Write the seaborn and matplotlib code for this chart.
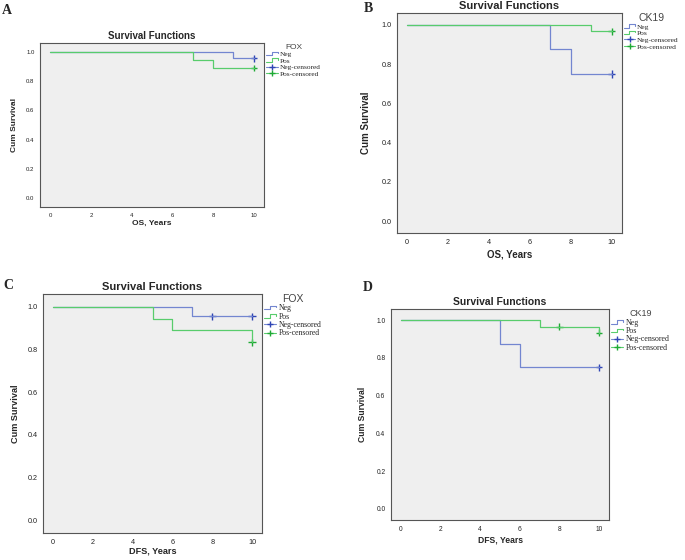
import numpy as np
import pandas as pd
import seaborn as sns
import matplotlib
matplotlib.use("Agg")
import matplotlib.pyplot as plt
from matplotlib.lines import Line2D
from matplotlib.legend_handler import HandlerBase

# ---- data ----
A_neg_t = [0, 9, 10]
A_neg_s = [1.0, 0.955, 0.955]
A_pos_t = [0, 7, 8, 10]
A_pos_s = [1.0, 0.944, 0.889, 0.889]
A_neg_cens_t = [10]
A_neg_cens_s = [0.955]
A_pos_cens_t = [10]
A_pos_cens_s = [0.889]

B_neg_t = [0, 7, 8, 10]
B_neg_s = [1.0, 0.875, 0.75, 0.75]
B_pos_t = [0, 9, 10]
B_pos_s = [1.0, 0.967, 0.967]
B_neg_cens_t = [10]
B_neg_cens_s = [0.75]
B_pos_cens_t = [10]
B_pos_cens_s = [0.967]

C_neg_t = [0, 7, 10]
C_neg_s = [1.0, 0.955, 0.955]
C_pos_t = [0, 5, 6, 10]
C_pos_s = [1.0, 0.944, 0.889, 0.833]
C_neg_cens_t = [8, 10]
C_neg_cens_s = [0.955, 0.955]
C_pos_cens_t = [10]
C_pos_cens_s = [0.833]

D_neg_t = [0, 5, 6, 10]
D_neg_s = [1.0, 0.875, 0.75, 0.75]
D_pos_t = [0, 7, 10]
D_pos_s = [1.0, 0.967, 0.935]
D_neg_cens_t = [10]
D_neg_cens_s = [0.75]
D_pos_cens_t = [8, 10]
D_pos_cens_s = [0.967, 0.935]

groups = ["Neg", "Pos"]
x_ticks = [0, 2, 4, 6, 8, 10]
y_ticks = [0.0, 0.2, 0.4, 0.6, 0.8, 1.0]

NEG_LINE = "#7386d0"
POS_LINE = "#58cc6c"
NEG_MARK = "#2f45b5"
POS_MARK = "#1faa35"

W, H = 685, 560

sns.set_style("white")
plt.rcParams["font.family"] = ["Liberation Sans", "DejaVu Sans"]


class StepHandler(HandlerBase):
    """legend key drawn as a little step, like SPSS does"""
    def create_artists(self, legend, orig, xd, yd, w, h, fontsize, trans):
        xs = [xd, xd + w * 0.45, xd + w * 0.45, xd + w, xd + w]
        ys = [yd + h * 0.2, yd + h * 0.2, yd + h * 0.8, yd + h * 0.8, yd + h * 0.55]
        ln = Line2D(xs, ys, color=orig.get_color(), lw=0.8, transform=trans)
        return [ln]


def px_axes(l, t, r, b):
    return fig.add_axes([l / W, 1 - b / H, (r - l) / W, (b - t) / H])


def km_panel(ax, neg_t, neg_s, pos_t, pos_s, nct, ncs, pct, pcs,
             xlabel, legend_title, fs):
    curves = pd.DataFrame({
        "time": neg_t + pos_t,
        "surv": neg_s + pos_s,
        "group": ["Neg"] * len(neg_t) + ["Pos"] * len(pos_t),
    })
    cens = pd.DataFrame({
        "time": nct + pct,
        "surv": ncs + pcs,
        "group": ["Neg"] * len(nct) + ["Pos"] * len(pct),
    })
    sns.lineplot(data=curves, x="time", y="surv", hue="group", hue_order=groups,
                 palette=[NEG_LINE, POS_LINE], estimator=None, sort=False,
                 drawstyle="steps-post", lw=0.9, legend=False, ax=ax)
    sns.scatterplot(data=cens, x="time", y="surv", hue="group", hue_order=groups,
                    palette=[NEG_MARK, POS_MARK], marker="+", s=fs["mark"],
                    linewidth=1.0, legend=False, ax=ax)
    ax.set_facecolor("#efefef")
    ax.set_xlim(-0.5, 10.5)
    ax.set_ylim(-0.06, 1.06)
    ax.set_xticks(x_ticks)
    ax.set_yticks(y_ticks)
    ax.set_yticklabels([f"{v:.1f}" for v in y_ticks])
    ax.tick_params(axis="both", length=2.5, width=0.6, color="#333333",
                   labelsize=fs["tick"], pad=1.5, labelcolor="#222222")
    for sp in ax.spines.values():
        sp.set_color("#555555")
        sp.set_linewidth(0.8)
    ax.set_title("Survival Functions", fontsize=fs["title"], fontweight="bold", pad=3)
    ax.set_xlabel(xlabel, fontsize=fs["label"], fontweight="bold")
    ax.set_ylabel("Cum Survival", fontsize=fs["label"], fontweight="bold")
    ax.xaxis.set_label_coords(0.5, -fs["xl"])
    ax.yaxis.set_label_coords(-fs["yl"], 0.5)

    h_neg = Line2D([], [], color=NEG_LINE)
    h_pos = Line2D([], [], color=POS_LINE)
    h_nc = Line2D([], [], color=NEG_LINE, lw=0.8, marker="+", mec=NEG_MARK, ms=4)
    h_pc = Line2D([], [], color=POS_LINE, lw=0.8, marker="+", mec=POS_MARK, ms=4)
    leg = ax.legend([h_neg, h_pos, h_nc, h_pc],
                    ["Neg", "Pos", "Neg-censored", "Pos-censored"],
                    handler_map={h_neg: StepHandler(), h_pos: StepHandler()},
                    title=legend_title, loc="upper left", bbox_to_anchor=(1.0, 1.01),
                    frameon=False, prop={"family": "Liberation Serif", "size": fs["leg"]},
                    handlelength=fs["hl"], handletextpad=0.3, labelspacing=0.05,
                    borderaxespad=0.1, borderpad=0.2)
    leg.get_title().set_fontsize(fs["legt"])
    leg.get_title().set_color("#444444")
    leg._legend_box.align = "center"


fig = plt.figure(figsize=(W / 100, H / 100), dpi=100)
fig.patch.set_facecolor("white")

fsA = {"tick": 4.3, "title": 7, "label": 6, "leg": 5.3, "legt": 6, "mark": 22,
       "xl": 0.08, "yl": 0.1, "hl": 1.6}
fsB = {"tick": 5.2, "title": 8, "label": 7, "leg": 5.4, "legt": 7.5, "mark": 28,
       "xl": 0.075, "yl": 0.115, "hl": 1.4}
fsC = {"tick": 5.2, "title": 8, "label": 6.6, "leg": 5.6, "legt": 7.5, "mark": 28,
       "xl": 0.058, "yl": 0.105, "hl": 1.5}
fsD = {"tick": 4.8, "title": 7.5, "label": 6.2, "leg": 5.7, "legt": 6.5, "mark": 24,
       "xl": 0.075, "yl": 0.11, "hl": 1.5}

axA = px_axes(40, 43, 264, 207)
km_panel(axA, A_neg_t, A_neg_s, A_pos_t, A_pos_s, A_neg_cens_t, A_neg_cens_s,
         A_pos_cens_t, A_pos_cens_s, "OS, Years", "FOX", fsA)

axB = px_axes(397, 13, 622, 233)
km_panel(axB, B_neg_t, B_neg_s, B_pos_t, B_pos_s, B_neg_cens_t, B_neg_cens_s,
         B_pos_cens_t, B_pos_cens_s, "OS, Years", "CK19", fsB)

axC = px_axes(43, 294, 262, 533)
km_panel(axC, C_neg_t, C_neg_s, C_pos_t, C_pos_s, C_neg_cens_t, C_neg_cens_s,
         C_pos_cens_t, C_pos_cens_s, "DFS, Years", "FOX", fsC)

axD = px_axes(391, 309, 609, 520)
km_panel(axD, D_neg_t, D_neg_s, D_pos_t, D_pos_s, D_neg_cens_t, D_neg_cens_s,
         D_pos_cens_t, D_pos_cens_s, "DFS, Years", "CK19", fsD)

# panel letters
for letter, x, y in [("A", 2, 4), ("B", 364, 2), ("C", 3, 279), ("D", 363, 281)]:
    fig.text(x / W, 1 - y / H, letter, ha="left", va="top", fontsize=10,
             fontweight="bold", family="Liberation Serif")

fig.savefig("out.png", dpi=100)
